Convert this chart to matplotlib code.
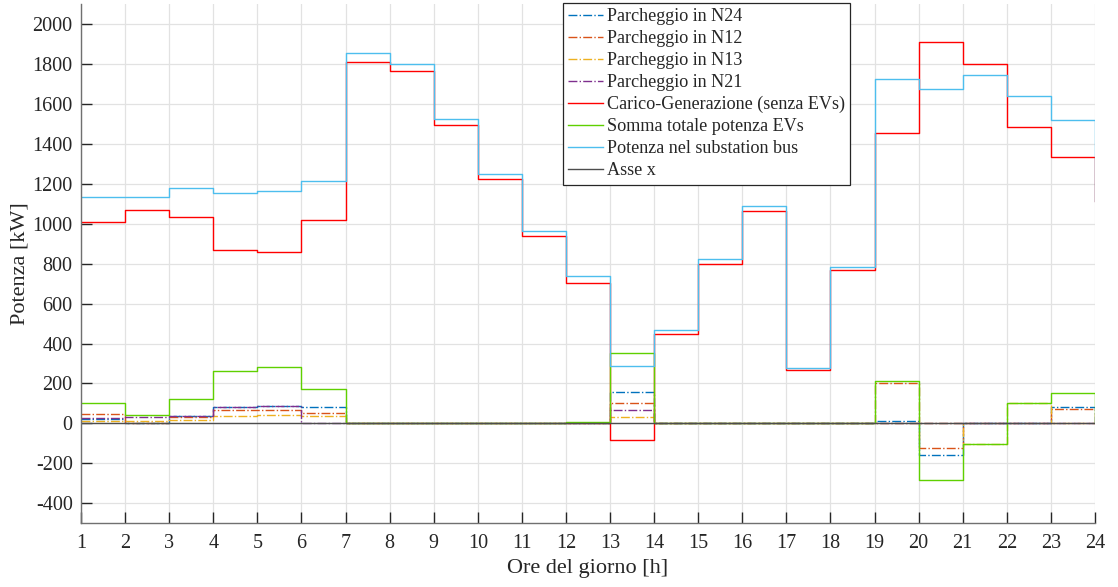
import matplotlib
matplotlib.use("Agg")
import matplotlib.pyplot as plt
import numpy as np

hours = list(range(1, 25))

n24 = [20, 3, 36, 80, 87, 84, 0, 0, 0, 0, 0, 3, 158, 0, 0, 0, 0, 0, 10, -160, 0, 0, 80, 0]
n12 = [45, 0, 31, 66, 68, 50, 0, 0, 0, 0, 0, 0, 100, 0, 0, 0, 0, 0, 202, -122, 0, 0, 70, 0]
n13 = [12, 10, 15, 39, 43, 38, 0, 0, 0, 0, 0, 0, 30, 0, 0, 0, 0, 0, 0, 0, -105, 104, 0, 0]
n21 = [28, 32, 38, 80, 87, 0, 0, 0, 0, 0, 0, 4, 66, 0, 0, 0, 0, 0, 0, 0, 0, 0, 0, 0]
carico = [1009, 1069, 1034, 870, 860, 1021, 1808, 1765, 1493, 1222, 940, 705, -85, 450,
          800, 1062, 268, 770, 1453, 1910, 1800, 1485, 1332, 1115]
somma_evs = [104, 44, 120, 265, 285, 172, 0, 0, 0, 0, 0, 7, 354, 0, 0, 0, 0, 0, 212, -282,
             -105, 104, 150, 0]
substation = [1134, 1134, 1180, 1156, 1166, 1214, 1855, 1800, 1522, 1247, 962, 740, 290, 470,
              825, 1088, 280, 785, 1722, 1675, 1745, 1637, 1520, 1115]
asse_x = [0] * 24

labels = ["Parcheggio in N24", "Parcheggio in N12", "Parcheggio in N13", "Parcheggio in N21",
          "Carico-Generazione (senza EVs)", "Somma totale potenza EVs",
          "Potenza nel substation bus", "Asse x"]

plt.rcParams['font.family'] = ['Liberation Serif', 'DejaVu Serif']
plt.rcParams['axes.unicode_minus'] = False

fig = plt.figure(figsize=(11.18, 5.87), dpi=100)
ax = fig.add_axes([0.0725, 0.1085, 0.9794 - 0.0725, 0.9932 - 0.1085])

series = [
    (n24, '#0072BD', '-.'),
    (n12, '#D95319', '-.'),
    (n13, '#EDB120', '-.'),
    (n21, '#7E2F8E', '-.'),
    (carico, '#FF0000', '-'),
    (somma_evs, '#5FD000', '-'),
    (substation, '#4DBEEE', '-'),
    (asse_x, '#4D4D4D', '-'),
]
for (vals, col, ls), lab in zip(series, labels):
    ax.step(hours, vals, where='post', color=col, linestyle=ls, linewidth=1.0, label=lab)

ax.set_xlim(1, 24)
ax.set_ylim(-500, 2100)
ax.set_xticks(hours)
ax.set_yticks(np.arange(-400, 2001, 200))
ax.grid(True, color='#e2e2e2', linewidth=0.9)
ax.set_axisbelow(True)
for s in ['top', 'right']:
    ax.spines[s].set_visible(False)
for s in ['left', 'bottom']:
    ax.spines[s].set_color('#707070')
    ax.spines[s].set_linewidth(1.0)
ax.tick_params(direction='in', length=8, width=1.0, color='#262626', labelsize=14.5,
               labelcolor='#262626')
ax.tick_params(axis='x', pad=8)
ax.tick_params(axis='y', pad=6)
ax.set_xlabel('Ore del giorno [h]', fontsize=16, color='#262626', labelpad=4)
ax.set_ylabel('Potenza [kW]', fontsize=16, color='#262626', labelpad=2)

leg = ax.legend(loc='upper left', bbox_to_anchor=(563 / 1118, 1 - 3 / 587),
                bbox_transform=fig.transFigure, fontsize=13.1, frameon=True, fancybox=False,
                edgecolor='#262626', framealpha=1, borderaxespad=0, borderpad=0.3,
                handlelength=1.9, handletextpad=0.2, labelspacing=0.27)
leg.get_frame().set_linewidth(0.9)
for t in leg.get_texts():
    t.set_color('#262626')

fig.savefig('out.png', dpi=100)
